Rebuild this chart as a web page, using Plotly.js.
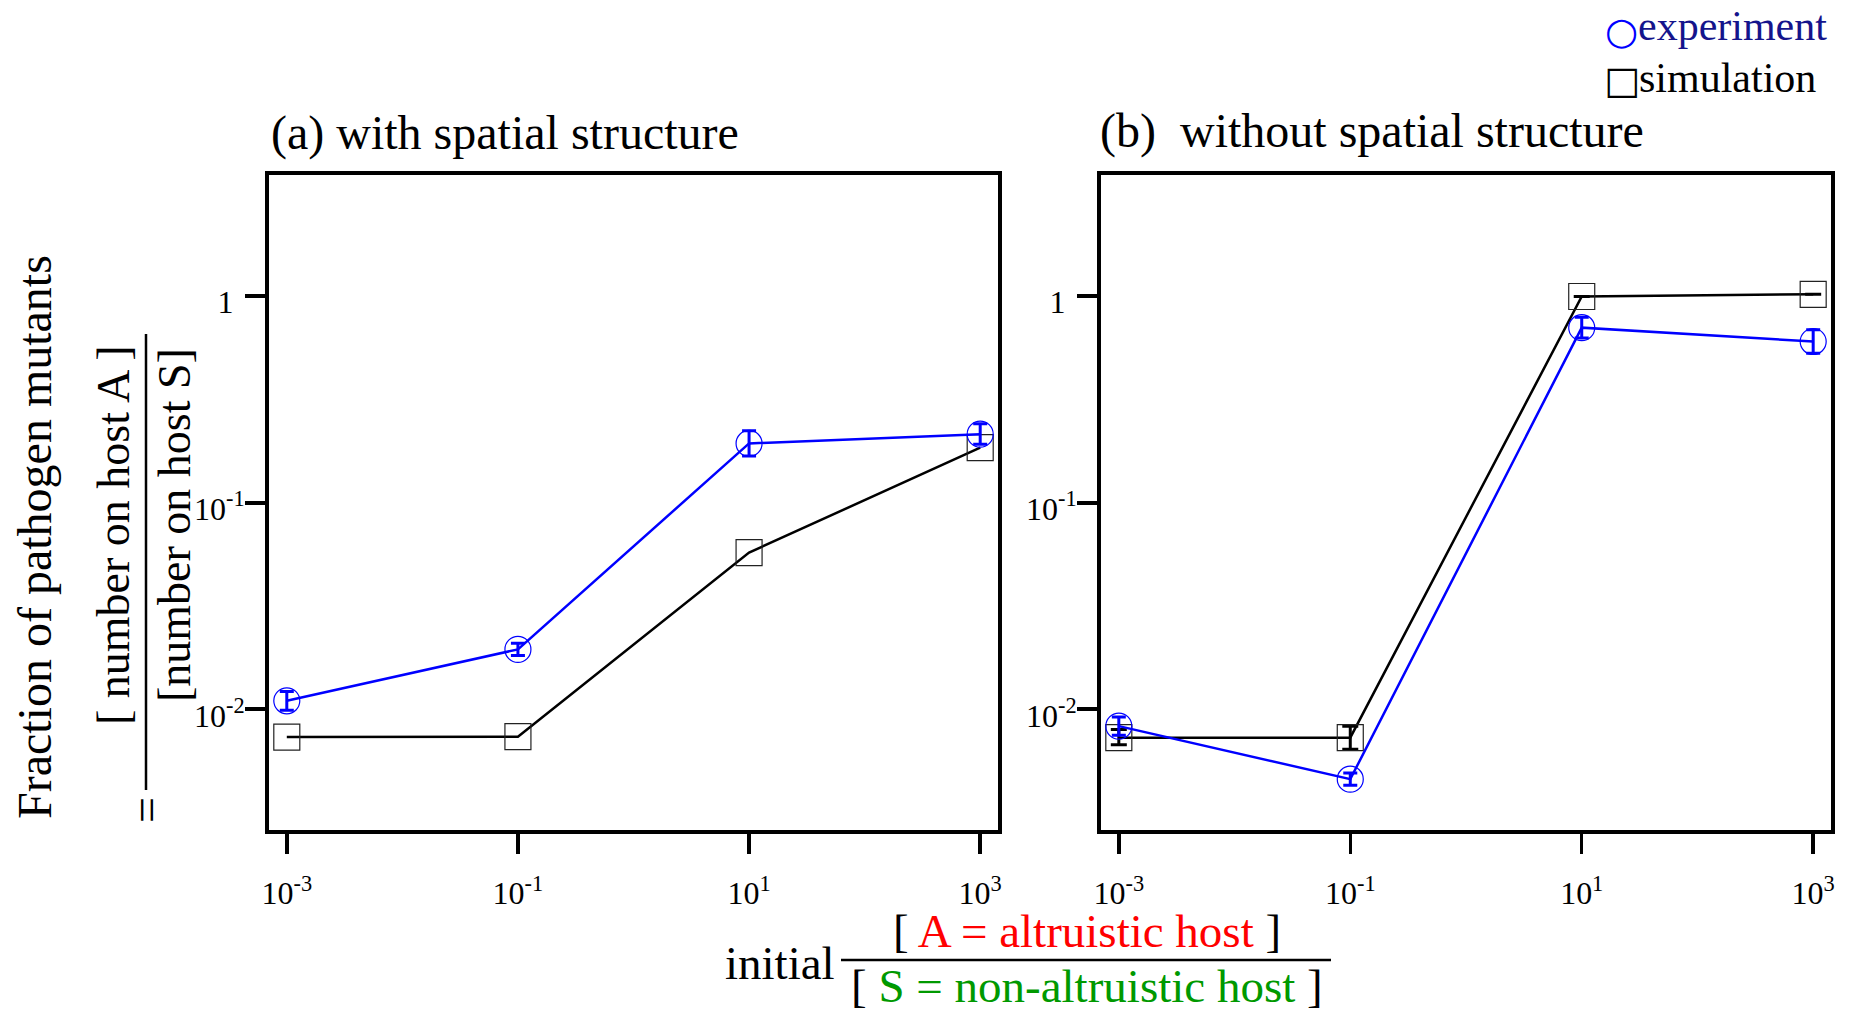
<!DOCTYPE html>
<html>
<head>
<meta charset="utf-8">
<script src="https://cdn.plot.ly/plotly-3.0.1.min.js"></script>
<style>html,body{margin:0;padding:0;background:#fff;}#chart{width:1852px;height:1012px;}</style>
</head>
<body>
<div id="chart"></div>
<script>
// ---- data ----
const initialRatio = [0.001, 0.1, 10, 1000];

const expA = [0.011, 0.0195, 0.193, 0.214];
const expAErrUp = [0.0012, 0.0014, 0.029, 0.026];
const expAErrDn = [0.0011, 0.0013, 0.025, 0.023];
const simA = [0.00735, 0.00738, 0.0573, 0.184];

const expB = [0.0083, 0.0046, 0.70, 0.60];
const expBErrUp = [0.0009, 0.00033, 0.085, 0.084];
const expBErrDn = [0.0008, 0.0003, 0.076, 0.074];
const simB = [0.0073, 0.0073, 0.99, 1.015];
const simBErrUp = [0.0007, 0.001, 0, 0];
const simBErrDn = [0.00055, 0.00088, 0, 0];

const xTickVals = [0.001, 0.1, 10, 1000];
const xTickText = ['10<sup>-3</sup>', '10<sup>-1</sup>', '10<sup>1</sup>', '10<sup>3</sup>'];
const yTickVals = [0.01, 0.1, 1];
const yTickText = ['10<sup>-2</sup>', '10<sup>-1</sup>', '1<sup>\u2007</sup>'];

const panelTitles = ['(a) with spatial structure', '(b)\u00a0 without spatial structure'];
const seriesNames = ['experiment', 'simulation'];

// ---- layout helpers ----
const W = 1852, H = 1012;
const px = v => v / W;
const py = v => 1 - v / H;
const SERIF = 'Liberation Serif, Times New Roman, serif';
const BLUE = '#0000ff';

function expTrace(y, up, dn, xa, ya) {
  return {
    x: initialRatio, y: y, xaxis: xa, yaxis: ya, type: 'scatter', mode: 'lines+markers',
    name: seriesNames[0], showlegend: false,
    line: {color: BLUE, width: 2.5},
    marker: {symbol: 'circle-open', size: 26, color: BLUE, line: {width: 1.2, color: BLUE}},
    error_y: {type: 'data', symmetric: false, array: up, arrayminus: dn, color: BLUE, thickness: 3, width: 7}
  };
}
function simTrace(y, xa, ya, up, dn) {
  const t = {
    x: initialRatio, y: y, xaxis: xa, yaxis: ya, type: 'scatter', mode: 'lines+markers',
    name: seriesNames[1], showlegend: false,
    line: {color: '#000000', width: 2.5},
    marker: {symbol: 'square-open', size: 26, color: '#222', line: {width: 1.2, color: '#222'}}
  };
  if (up) t.error_y = {type: 'data', symmetric: false, array: up, arrayminus: dn, color: '#000', thickness: 3, width: 8};
  return t;
}

const data = [
  simTrace(simA, 'x', 'y'),
  expTrace(expA, expAErrUp, expAErrDn, 'x', 'y'),
  simTrace(simB, 'x2', 'y2', simBErrUp, simBErrDn),
  expTrace(expB, expBErrUp, expBErrDn, 'x2', 'y2')
];

function xAxis(domain, anchor) {
  return {
    type: 'log', domain: domain, anchor: anchor, range: [-3.154, 3.154],
    tickmode: 'array', tickvals: xTickVals, ticktext: xTickText,
    ticks: 'outside', ticklen: 20, tickwidth: 3.5, tickcolor: '#000',
    showline: true, linewidth: 4, linecolor: '#000', mirror: true,
    showgrid: false, zeroline: false, automargin: false,
    ticklabelstandoff: 12,
    tickfont: {family: SERIF, size: 32, color: '#000'}
  };
}
function yAxis(domain, anchor) {
  return {
    type: 'log', domain: domain, anchor: anchor, range: [-2.583, 0.583],
    tickmode: 'array', tickvals: yTickVals, ticktext: yTickText,
    ticks: 'outside', ticklen: 20, tickwidth: 4, tickcolor: '#000',
    showline: true, linewidth: 4, linecolor: '#000', mirror: true,
    showgrid: false, zeroline: false, automargin: false,
    ticklabelstandoff: -6, ticklabelshift: 6,
    tickfont: {family: SERIF, size: 32, color: '#000'}
  };
}

const yDom = [py(830), py(175)];

const annotations = [
  // panel titles
  {text: panelTitles[0], x: px(269), y: py(133), xanchor: 'left', yanchor: 'middle', font: {size: 48}},
  {text: panelTitles[1], x: px(1098), y: py(131), xanchor: 'left', yanchor: 'middle', font: {size: 48}},
  // legend
  {text: '\u25CB', x: px(1621), y: py(31), xanchor: 'center', yanchor: 'middle', font: {size: 38, color: BLUE, family: 'DejaVu Sans'}},
  {text: seriesNames[0], x: px(1636), y: py(26), xanchor: 'left', yanchor: 'middle', font: {size: 42, color: '#14148c'}},
  {text: '\u25A1', x: px(1622), y: py(80), xanchor: 'center', yanchor: 'middle', font: {size: 38, color: '#000', family: 'DejaVu Sans'}},
  {text: seriesNames[1], x: px(1637), y: py(78), xanchor: 'left', yanchor: 'middle', font: {size: 42, color: '#000'}},
  // y title
  {text: 'Fraction of pathogen mutants', x: px(34), y: py(537), textangle: -90, xanchor: 'center', yanchor: 'middle', font: {size: 48}},
  {text: '=', x: px(146), y: py(810), textangle: -90, xanchor: 'center', yanchor: 'middle', font: {size: 46}},
  {text: '[ number on host A ]', x: px(113), y: py(536), textangle: -90, xanchor: 'center', yanchor: 'middle', font: {size: 46}},
  {text: '[number on host S]', x: px(174), y: py(525), textangle: -90, xanchor: 'center', yanchor: 'middle', font: {size: 46}},
  // x title
  {text: 'initial', x: px(780), y: py(963), xanchor: 'center', yanchor: 'middle', font: {size: 47}},
  {text: '[ <span style="color:#ff0000">A = altruistic host</span> ]', x: px(1087), y: py(931), xanchor: 'center', yanchor: 'middle', font: {size: 47}},
  {text: '[ <span style="color:#009900">S = non-altruistic host</span> ]', x: px(1087), y: py(986), xanchor: 'center', yanchor: 'middle', font: {size: 47}}
].map(a => Object.assign({xref: 'paper', yref: 'paper', showarrow: false}, a, {
  font: Object.assign({family: SERIF, color: '#000'}, a.font)
}));

const shapes = [
  {type: 'line', xref: 'paper', yref: 'paper', x0: px(146), x1: px(146), y0: py(334), y1: py(790), line: {color: '#000', width: 2.5}},
  {type: 'line', xref: 'paper', yref: 'paper', x0: px(841), x1: px(1331), y0: py(960), y1: py(960), line: {color: '#000', width: 2.5}}
];

const layout = {
  width: W, height: H,
  margin: {l: 0, r: 0, t: 0, b: 0},
  paper_bgcolor: '#fff', plot_bgcolor: '#fff',
  font: {family: SERIF, color: '#000'},
  showlegend: false,
  xaxis: xAxis([px(269), px(998)], 'y'),
  yaxis: yAxis(yDom, 'x'),
  xaxis2: xAxis([px(1101), px(1831)], 'y2'),
  yaxis2: yAxis(yDom, 'x2'),
  annotations: annotations,
  shapes: shapes
};

Plotly.newPlot('chart', data, layout, {displayModeBar: false, staticPlot: true});
</script>
</body>
</html>
